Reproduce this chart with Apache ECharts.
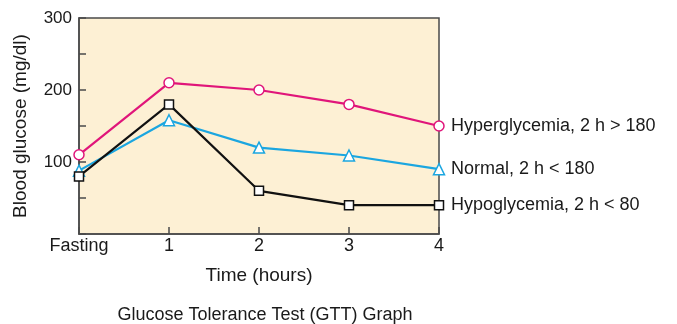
<!DOCTYPE html>
<html>
<head>
<meta charset="utf-8">
<script src="https://cdn.jsdelivr.net/npm/echarts@6/dist/echarts.min.js"></script>
<style>
  html, body { margin: 0; padding: 0; background: #ffffff; }
  #chart { width: 677px; height: 324px; }
</style>
</head>
<body>
<div id="chart"></div>
<script>
// Time points of the glucose tolerance test
const timePoints = ['Fasting', '1', '2', '3', '4'];

// Blood glucose (mg/dl) for each response curve
const hyperglycemia = [110, 210, 200, 180, 150];
const normal = [88, 158, 120, 109, 90];
const hypoglycemia = [80, 180, 60, 40, 40];

// Curve names shown at the end of each line
const seriesNames = [
  'Hyperglycemia, 2 h > 180',
  'Normal, 2 h < 180',
  'Hypoglycemia, 2 h < 80'
];

const yTickLabels = ['100', '200', '300'];

const FONT = '"Liberation Sans", Arial, Helvetica, sans-serif';
const AXIS_COLOR = '#4a4a4a';
const TEXT_COLOR = '#1a1a1a';

function makeSeries(name, data, color, symbol, size) {
  return {
    name: name,
    type: 'line',
    data: data,
    symbol: symbol,
    symbolSize: size,
    showAllSymbol: true,
    lineStyle: { color: color, width: 2.2 },
    itemStyle: { color: '#ffffff', borderColor: color, borderWidth: 1.5 },
    emphasis: { disabled: true },
    endLabel: {
      show: true,
      formatter: name,
      distance: 12,
      color: TEXT_COLOR,
      fontFamily: FONT,
      fontSize: 18
    },
    z: 3
  };
}

const chart = echarts.init(document.getElementById('chart'), null, { renderer: 'canvas' });

chart.setOption({
  animation: false,
  title: {
    text: 'Glucose Tolerance Test (GTT) Graph',
    left: 260,
    top: 301,
    textAlign: 'center',
    textStyle: { color: TEXT_COLOR, fontFamily: FONT, fontSize: 18, fontWeight: 'normal' }
  },
  grid: {
    left: 79,
    right: 238,
    top: 18,
    bottom: 90,
    show: true,
    backgroundColor: '#fdf0d4',
    borderColor: AXIS_COLOR,
    borderWidth: 1.5
  },
  xAxis: {
    type: 'category',
    data: timePoints,
    boundaryGap: false,
    name: 'Time (hours)',
    nameLocation: 'middle',
    nameGap: 32,
    nameTextStyle: { color: TEXT_COLOR, fontFamily: FONT, fontSize: 19 },
    axisLine: { lineStyle: { color: AXIS_COLOR, width: 1.5 } },
    axisTick: { show: true, inside: true, length: 7, alignWithLabel: true, lineStyle: { color: AXIS_COLOR, width: 1.5 } },
    axisLabel: { color: TEXT_COLOR, fontFamily: FONT, fontSize: 18, margin: 3 },
    splitLine: { show: false }
  },
  yAxis: {
    type: 'value',
    min: 0,
    max: 300,
    interval: 50,
    name: 'Blood glucose (mg/dl)',
    nameLocation: 'middle',
    nameGap: 49,
    nameTextStyle: { color: TEXT_COLOR, fontFamily: FONT, fontSize: 19 },
    axisLine: { show: true, lineStyle: { color: AXIS_COLOR, width: 1.5 } },
    axisTick: { show: true, inside: true, length: 7, lineStyle: { color: AXIS_COLOR, width: 1.5 } },
    axisLabel: {
      color: TEXT_COLOR,
      fontFamily: FONT,
      fontSize: 17,
      margin: 7,
      formatter: function (v) {
        const s = String(v);
        return yTickLabels.indexOf(s) >= 0 ? s : '';
      }
    },
    splitLine: { show: false }
  },
  series: [
    makeSeries(seriesNames[0], hyperglycemia, '#e0157a', 'circle', 10),
    makeSeries(seriesNames[1], normal, '#1ba6e0', 'triangle', 11),
    makeSeries(seriesNames[2], hypoglycemia, '#111111', 'rect', 9)
  ]
});
</script>
</body>
</html>
